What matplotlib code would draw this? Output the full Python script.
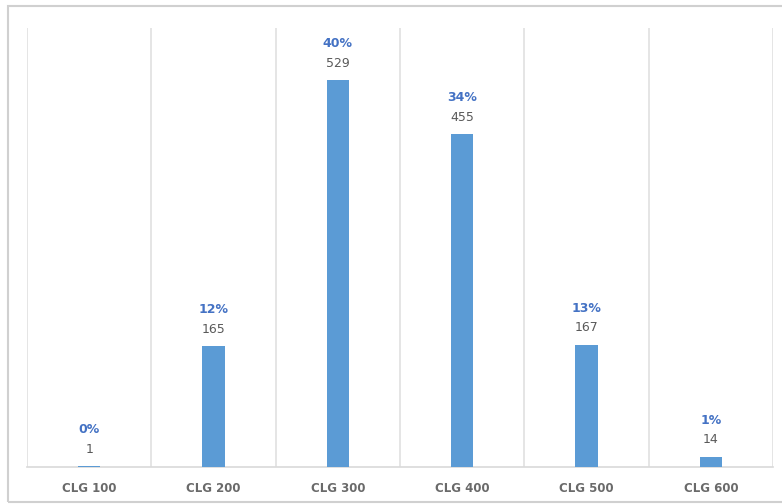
import matplotlib.pyplot as plt
from matplotlib.patches import Rectangle

categories = ["CLG 100", "CLG 200", "CLG 300", "CLG 400", "CLG 500", "CLG 600"]
counts = [1, 165, 529, 455, 167, 14]

total = sum(counts)
percents = [round(c * 100 / total) for c in counts]

fig = plt.figure(figsize=(7.82, 5.04), dpi=100)

# outer chart frame
fig.patches.append(Rectangle((8 / 782, 2 / 504), 1.0, 496 / 504, transform=fig.transFigure,
                             fill=False, edgecolor="#d0d0d0", linewidth=1.5))

ax = fig.add_axes([27 / 782, 37 / 504, 746 / 782, 439 / 504])
x = list(range(len(categories)))
ax.bar(x, counts, width=0.18, color="#5b9bd5", zorder=3)

ax.set_xlim(-0.5, len(categories) - 0.5)
ax.set_ylim(0, 600)

# category separators
for b in range(len(categories) + 1):
    ax.axvline(b - 0.5, color="#e0e0e0", linewidth=1.2, zorder=1)

for xi, c, p in zip(x, counts, percents):
    ax.annotate(str(c), (xi, c), xytext=(0, 7.5), textcoords="offset points",
                ha="center", va="bottom", fontsize=9, color="#595959")
    ax.annotate(f"{p}%", (xi, c), xytext=(0, 21.5), textcoords="offset points",
                ha="center", va="bottom", fontsize=9, color="#4472c4", fontweight="bold")

ax.set_xticks(x)
ax.set_xticklabels(categories, fontsize=8.5, color="#6a6a6a", fontweight="bold",
                   fontfamily="DejaVu Sans", fontstretch="expanded")
ax.tick_params(axis="x", length=0, pad=11)
ax.set_yticks([])
for s in ["top", "left", "right"]:
    ax.spines[s].set_visible(False)
ax.spines["bottom"].set_color("#d9d9d9")
ax.spines["bottom"].set_linewidth(1.2)

fig.savefig("out.png", dpi=100)
